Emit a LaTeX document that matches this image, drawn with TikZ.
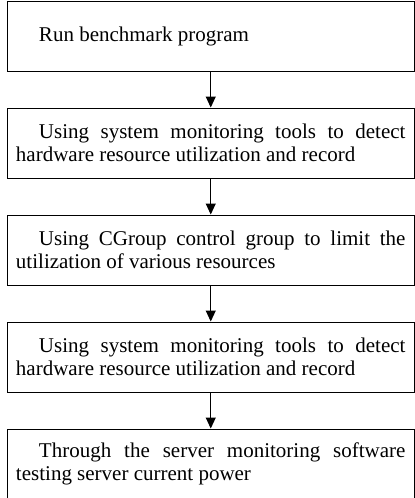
\documentclass[tikz,border=0pt]{standalone}
\usepackage{fontspec}
\setmainfont{Liberation Serif}
\usetikzlibrary{positioning,arrows.meta}
\tikzset{
  stepbox/.style={draw, line width=1pt, text width=389.5pt, inner xsep=9pt, inner ysep=0pt,
    minimum height=70pt, align=justify, font=\fontsize{21pt}{23pt}\selectfont},
  flow/.style={-{Triangle[width=10pt,length=11pt]}, line width=1pt}
}
\begin{document}
\begin{tikzpicture}[x=1pt,y=1pt]
  \useasboundingbox (0,0) rectangle (415,-498);
  % Steps
  \node[stepbox] (run) at (210.75,-36) {\hspace*{23pt}Run benchmark program};
  \node[stepbox, below=36pt of run] (mon1) {\hspace*{23pt}Using system monitoring tools to detect\linebreak hardware resource utilization and record};
  \node[stepbox, below=36pt of mon1] (cgrp) {\hspace*{23pt}Using CGroup control group to limit the\linebreak utilization of various resources};
  \node[stepbox, below=36pt of cgrp] (mon2) {\hspace*{23pt}Using system monitoring tools to detect\linebreak hardware resource utilization and record};
  \node[stepbox, below=36pt of mon2] (pwr) {\hspace*{23pt}Through the server monitoring software\linebreak testing server current power};
  % Arrows
  \foreach \a/\b in {run/mon1, mon1/cgrp, cgrp/mon2, mon2/pwr} {
    \draw[flow] (\a) -- (\b);
  }
\end{tikzpicture}
\end{document}
